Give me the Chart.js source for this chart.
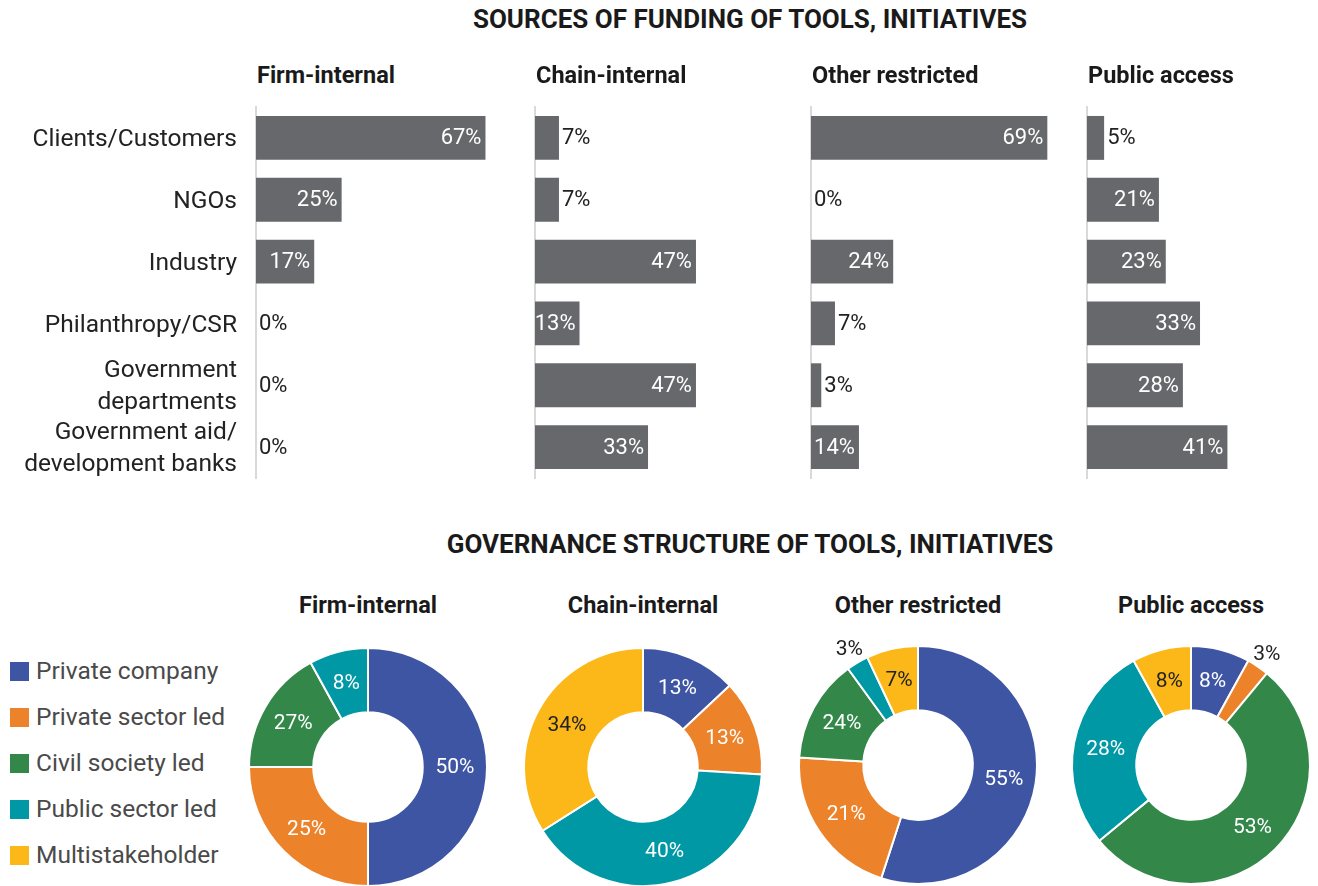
<!DOCTYPE html>
<html>
<head>
<meta charset="utf-8">
<script src="https://cdn.jsdelivr.net/npm/chart.js@4"></script>
<style>
  body { margin: 0; background: #fff; font-family: Roboto, "Noto Sans", sans-serif; }
  #page { position: relative; width: 1318px; height: 886px; overflow: hidden; }
  canvas { position: absolute; }
  .title { position: absolute; left: 0; width: 1500px; text-align: center; font-weight: 700; font-size: 26px; color: #1a1a1a; }
  .head { position: absolute; font-weight: 700; font-size: 23.5px; color: #1a1a1a; white-space: nowrap; }
  .legend { position: absolute; left: 10px; top: 648px; font-size: 24.5px; color: #4a4a4a; }
  .legend div { height: 46px; line-height: 46px; white-space: nowrap; }
  .legend span { display: inline-block; width: 19px; height: 19px; margin-right: 7px; vertical-align: -2px; }
</style>
</head>
<body>
<div id="page">
  <div class="title" style="top:4px">SOURCES OF FUNDING OF TOOLS, INITIATIVES</div>
  <div class="title" style="top:529px">GOVERNANCE STRUCTURE OF TOOLS, INITIATIVES</div>

  <canvas id="bar0" width="530" height="385" style="left:0;top:100px"></canvas>
  <canvas id="bar1" width="282" height="385" style="left:527px;top:100px"></canvas>
  <canvas id="bar2" width="282" height="385" style="left:803px;top:100px"></canvas>
  <canvas id="bar3" width="282" height="385" style="left:1079px;top:100px"></canvas>

  <canvas id="pie0" width="250" height="250" style="left:243px;top:642px"></canvas>
  <canvas id="pie1" width="250" height="250" style="left:518px;top:642px"></canvas>
  <canvas id="pie2" width="250" height="250" style="left:793px;top:640px"></canvas>
  <canvas id="pie3" width="250" height="250" style="left:1066px;top:640px"></canvas>

  <div class="legend" id="legend"></div>
</div>
<script>
// funding sources (top row)
const panels = ['Firm-internal', 'Chain-internal', 'Other restricted', 'Public access'];
const sources = ['Clients/Customers', 'NGOs', 'Industry', 'Philanthropy/CSR',
  ['Government', 'departments'], ['Government aid/', 'development banks']];
const fundFirm = [67, 25, 17, 0, 0, 0];
const fundChain = [7, 7, 47, 13, 47, 33];
const fundOther = [69, 0, 24, 7, 3, 14];
const fundPublic = [5, 21, 23, 33, 28, 41];

// governance structure (bottom row)
const govTypes = ['Private company', 'Private sector led', 'Civil society led', 'Public sector led', 'Multistakeholder'];
const govColors = ['#3d55a3', '#ec8229', '#338849', '#0098a5', '#fbb818'];
// slice sizes as drawn; the printed labels of the source differ in two places (27%, 24%)
const govFirm = [50, 25, 17, 8, 0];
const govFirmText = ['50%', '25%', '27%', '8%', ''];
const govChain = [13, 13, 0, 40, 34];
const govChainText = ['13%', '13%', '', '40%', '34%'];
const govOther = [55, 21, 14, 3, 7];
const govOtherText = ['55%', '21%', '24%', '3%', '7%'];
const govPublic = [8, 3, 53, 28, 8];
const govPublicText = ['8%', '3%', '53%', '28%', '8%'];

const barLeft = [256, 535, 811, 1087];
const pieCenters = [368, 643, 918, 1191];
const page = document.getElementById('page');

// section headings
panels.forEach((p, i) => {
  const h = document.createElement('div');
  h.className = 'head';
  h.textContent = p;
  h.style.left = (barLeft[i] + 1) + 'px';
  h.style.top = '61px';
  page.appendChild(h);

  const g = document.createElement('div');
  g.className = 'head';
  g.textContent = p;
  g.style.left = (pieCenters[i] - 150) + 'px';
  g.style.width = '300px';
  g.style.textAlign = 'center';
  g.style.top = '591px';
  page.appendChild(g);
});

// legend
const legend = document.getElementById('legend');
govTypes.forEach((t, i) => {
  const row = document.createElement('div');
  row.innerHTML = '<span style="background:' + govColors[i] + '"></span>' + t;
  legend.appendChild(row);
});

const barLabels = {
  id: 'barLabels',
  afterDatasetsDraw(chart) {
    const ctx = chart.ctx;
    const vals = chart.data.datasets[0].data;
    ctx.save();
    ctx.font = '22px Roboto';
    ctx.textBaseline = 'middle';
    chart.getDatasetMeta(0).data.forEach((bar, i) => {
      const txt = vals[i] + '%';
      if (vals[i] >= 10) {
        ctx.fillStyle = '#fff';
        ctx.textAlign = 'right';
        ctx.fillText(txt, bar.x - 4, bar.y + 1);
      } else {
        ctx.fillStyle = '#222';
        ctx.textAlign = 'left';
        ctx.fillText(txt, bar.x + 3, bar.y + 1);
      }
    });
    ctx.restore();
  }
};

function makeBar(id, data, labelWidth, showTicks) {
  new Chart(document.getElementById(id), {
    type: 'bar',
    data: {
      labels: sources,
      datasets: [{ data: data, backgroundColor: '#67686b', categoryPercentage: 1, barPercentage: 0.71 }]
    },
    options: {
      indexAxis: 'y',
      responsive: false,
      animation: false,
      layout: { padding: { top: 7, bottom: 7, right: 0, left: 0 } },
      plugins: { legend: { display: false }, tooltip: { enabled: false } },
      scales: {
        x: { min: 0, max: 80, display: false },
        y: {
          afterFit: s => { s.width = labelWidth; s.paddingTop = 0; s.paddingBottom = 0; },
          grid: { display: false },
          border: { display: true, color: '#d9d9d9', width: 2 },
          ticks: {
            display: showTicks,
            autoSkip: false,
            color: '#222',
            padding: 11,
            labelOffset: 2,
            font: { family: 'Roboto', size: 24.5, lineHeight: 1.3 }
          }
        }
      }
    },
    plugins: [barLabels]
  });
}

makeBar('bar0', fundFirm, 256, true);
makeBar('bar1', fundChain, 8, false);
makeBar('bar2', fundOther, 8, false);
makeBar('bar3', fundPublic, 8, false);

const donutLabels = {
  id: 'donutLabels',
  afterDatasetsDraw(chart, args, opts) {
    const ctx = chart.ctx;
    const vals = chart.data.datasets[0].data;
    ctx.save();
    ctx.font = '21px Roboto';
    ctx.textAlign = 'center';
    ctx.textBaseline = 'middle';
    chart.getDatasetMeta(0).data.forEach((arc, i) => {
      if (!vals[i]) return;
      let x, y, color;
      if (vals[i] < 5) {
        const a = (arc.startAngle + arc.endAngle) / 2;
        const r = arc.outerRadius + 16;
        x = arc.x + Math.cos(a) * r;
        y = arc.y + Math.sin(a) * r;
        color = '#222';
      } else {
        const p = arc.tooltipPosition();
        x = p.x; y = p.y;
        color = i === 4 ? '#222' : '#fff';
      }
      ctx.fillStyle = color;
      ctx.fillText(opts.text[i], x, y + 1);
    });
    ctx.restore();
  }
};

function makePie(id, data, text) {
  new Chart(document.getElementById(id), {
    type: 'doughnut',
    data: {
      labels: govTypes,
      datasets: [{ data: data, backgroundColor: govColors, borderColor: '#fff', borderWidth: 2 }]
    },
    options: {
      responsive: false,
      animation: false,
      cutout: '46%',
      layout: { padding: 5 },
      plugins: { legend: { display: false }, tooltip: { enabled: false }, donutLabels: { text: text } }
    },
    plugins: [donutLabels]
  });
}

makePie('pie0', govFirm, govFirmText);
makePie('pie1', govChain, govChainText);
makePie('pie2', govOther, govOtherText);
makePie('pie3', govPublic, govPublicText);
</script>
</body>
</html>
